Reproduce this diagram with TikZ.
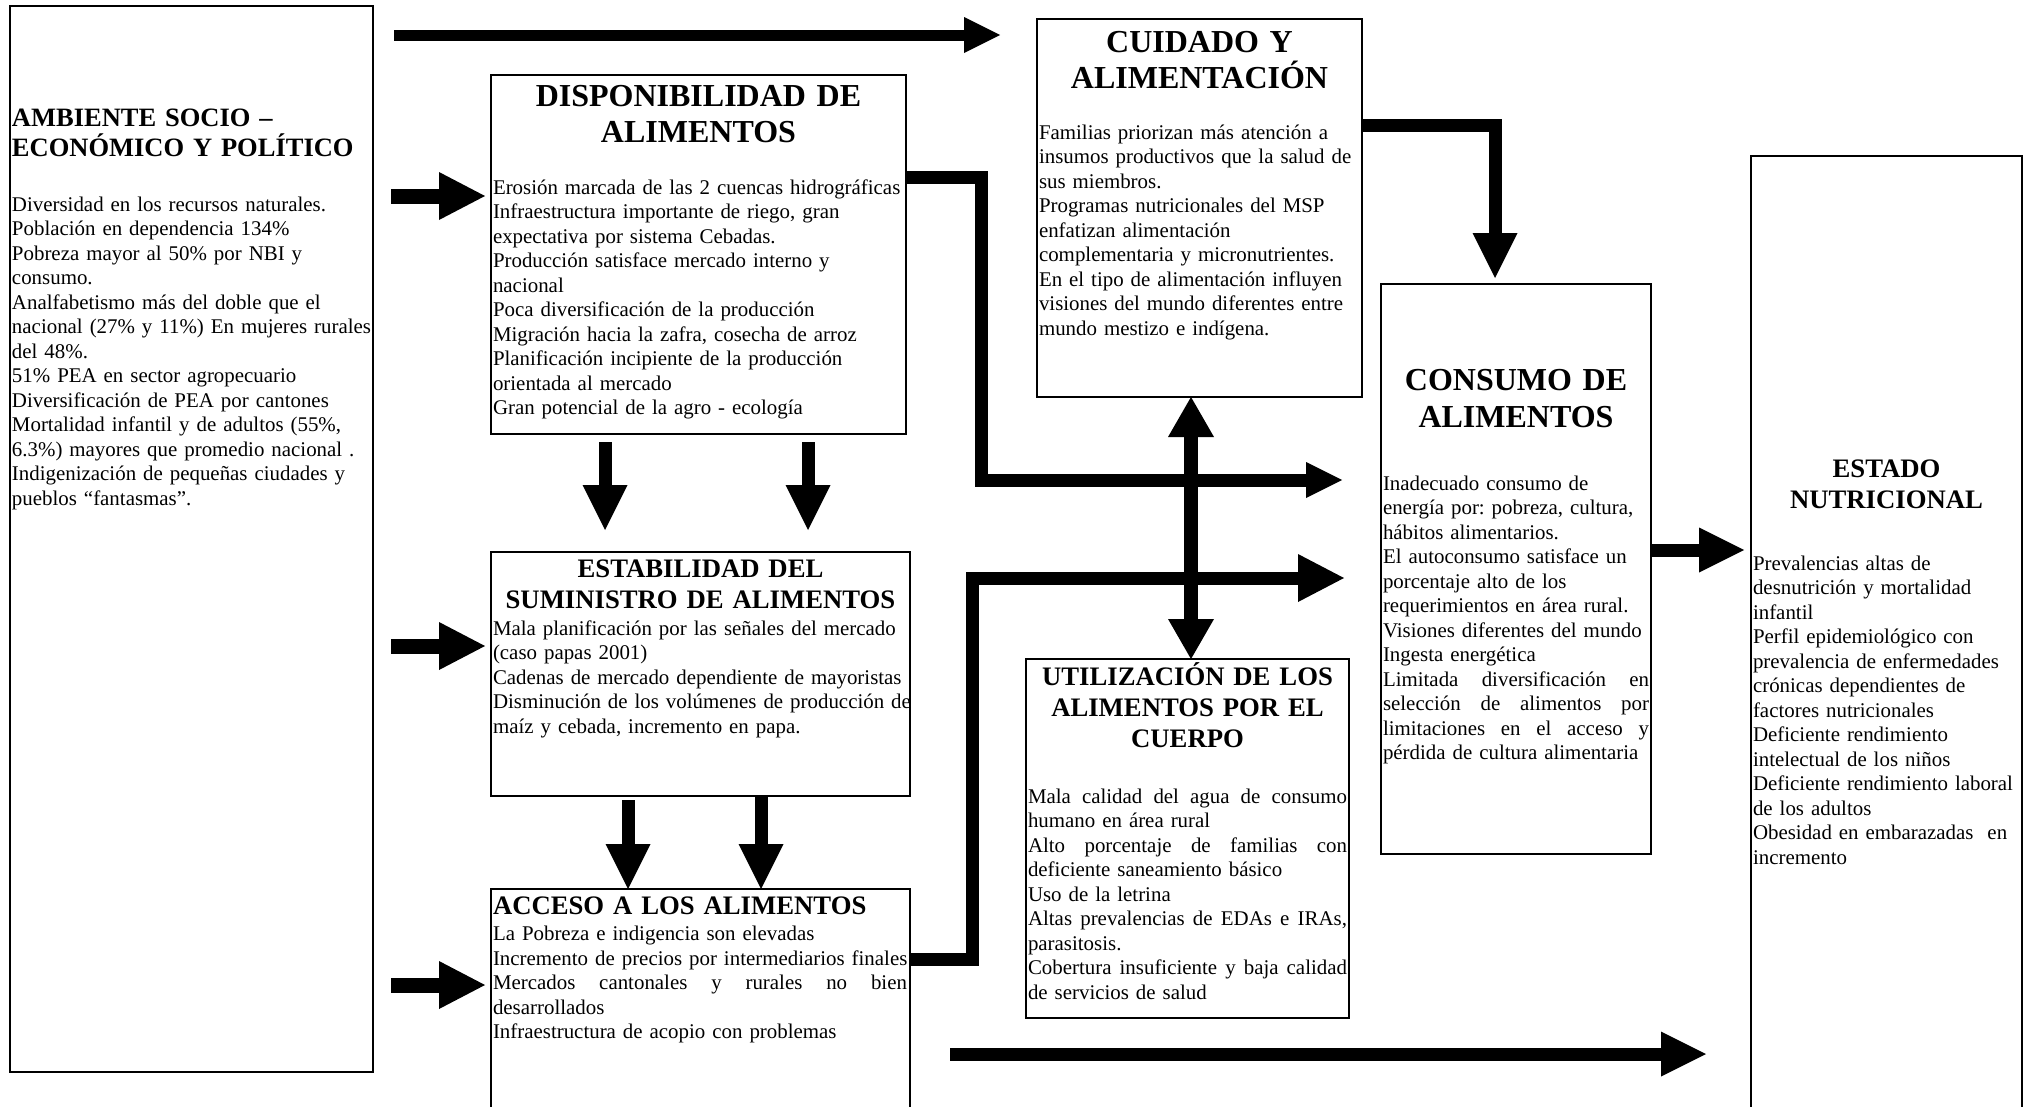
\documentclass[tikz,border=0pt]{standalone}
\usepackage{fontspec}
\setmainfont{Liberation Serif}
\usetikzlibrary{arrows.meta,calc}
\frenchspacing
\newcommand\fbody{\fontsize{20.9}{24.5}\selectfont}
\newcommand\ftbig{\fontsize{32}{36.8}\selectfont\bfseries}
\newcommand\ftmid{\fontsize{26.7}{31}\selectfont\bfseries}
\newcommand\ftamb{\fontsize{26.5}{30}\selectfont\bfseries}
\newcommand\jl[2]{\leavevmode\hbox to #1pt{\spaceskip=0.25em plus 1fil\xspaceskip=0.25em plus 1fil\relax #2}}
\begin{document}
\begin{tikzpicture}[x=1pt,y=-1pt,
  box/.style={draw, line width=1.6pt, inner sep=0pt, outer sep=0pt, anchor=north west},
  bodytxt/.style={inner sep=0pt, outer sep=0pt, anchor=base west, align=left, text width=600pt, font=\fbody},
  ttlc/.style={inner sep=0pt, outer sep=0pt, anchor=base, align=center, text width=#1pt},
  ttll/.style={inner sep=0pt, outer sep=0pt, anchor=base west, align=left, text width=600pt},
  arrS/.style={line width=11pt, -{Triangle[length=36pt,width=36pt,line width=0pt]}},
  arrM/.style={line width=13pt, -{Triangle[length=45pt,width=45pt,line width=0pt]}},
  arrL/.style={line width=15pt, -{Triangle[length=46pt,width=48pt,line width=0pt]}},
  arrD/.style={line width=14pt, {Triangle[length=40pt,width=46pt,line width=0pt]}-{Triangle[length=40pt,width=46pt,line width=0pt]}}
]
\path[use as bounding box, fill=white] (0,0) rectangle (2026,1106);
\clip (0,0) rectangle (2026,1106);

% ---------- boxes ----------
\node[box, minimum width=363pt, minimum height=1066pt] (amb) at (10,6) {};
\node[box, minimum width=415pt, minimum height=359pt] (dispo) at (491,75) {};
\node[box, minimum width=419pt, minimum height=244pt] (estab) at (491,552) {};
\node[box, minimum width=419pt, minimum height=260pt] (acceso) at (491,889) {};
\node[box, minimum width=325pt, minimum height=378pt] (cuidado) at (1037,19) {};
\node[box, minimum width=323pt, minimum height=359pt] (util) at (1026,659) {};
\node[box, minimum width=270pt, minimum height=570pt] (consumo) at (1381,284) {};
\node[box, minimum width=271pt, minimum height=1000pt] (estado) at (1751,156) {};

% ---------- texts ----------
\node[ttll, font=\ftamb] (ambT) at ($(amb.north west)+(2,120.4)$) {AMBIENTE SOCIO –\\ECONÓMICO Y POLÍTICO};
\node[bodytxt] (ambB) at ($(amb.north west)+(2,205)$) {Diversidad en los recursos naturales.\\
Población en dependencia 134\%\\
Pobreza mayor al 50\% por NBI y\\
consumo.\\
Analfabetismo más del doble que el\\
nacional (27\% y 11\%) En mujeres rurales\\
del 48\%.\\
51\% PEA en sector agropecuario\\
Diversificación de PEA por cantones\\
Mortalidad infantil y de adultos (55\%,\\
6.3\%) mayores que promedio nacional .\\
Indigenización de pequeñas ciudades y\\
pueblos “fantasmas”.};

\node[ttlc=415, font=\ftbig] (dispoT) at ($(dispo.north)+(0,31)$) {DISPONIBILIDAD DE\\ALIMENTOS};
\node[bodytxt] (dispoB) at ($(dispo.north west)+(2,119)$) {Erosión marcada de las 2 cuencas hidrográficas\\
Infraestructura importante de riego, gran\\
expectativa por sistema Cebadas.\\
Producción satisface mercado interno y\\
nacional\\
Poca diversificación de la producción\\
Migración hacia la zafra, cosecha de arroz\\
Planificación incipiente de la producción\\
orientada al mercado\\
Gran potencial de la agro - ecología};

\node[ttlc=419, font=\ftmid] (estabT) at ($(estab.north)+(0,25.5)$) {ESTABILIDAD DEL\\SUMINISTRO DE ALIMENTOS};
\node[bodytxt] (estabB) at ($(estab.north west)+(2,83)$) {Mala planificación por las señales del mercado\\
(caso papas 2001)\\
Cadenas de mercado dependiente de mayoristas\\
Disminución de los volúmenes de producción de\\
maíz y cebada, incremento en papa.};

\node[ttll, font=\ftmid] (accesoT) at ($(acceso.north west)+(2,25)$) {ACCESO A LOS ALIMENTOS};
\node[bodytxt] (accesoB) at ($(acceso.north west)+(2,51.5)$) {La Pobreza e indigencia son elevadas\\
Incremento de precios por intermediarios finales\\
\jl{414}{Mercados cantonales y rurales no bien}\\
desarrollados\\
Infraestructura de acopio con problemas};

\node[ttlc=325, font=\ftbig] (cuidadoT) at ($(cuidado.north)+(0,33)$) {CUIDADO Y\\ALIMENTACIÓN};
\node[bodytxt] (cuidadoB) at ($(cuidado.north west)+(2,120)$) {Familias priorizan más atención a\\
insumos productivos que la salud de\\
sus miembros.\\
Programas nutricionales del MSP\\
enfatizan alimentación\\
complementaria y micronutrientes.\\
En el tipo de alimentación influyen\\
visiones del mundo diferentes entre\\
mundo mestizo e indígena.};

\node[ttlc=323, font=\ftmid] (utilT) at ($(util.north)+(0,26)$) {UTILIZACIÓN DE LOS\\ALIMENTOS POR EL\\CUERPO};
\node[bodytxt] (utilB) at ($(util.north west)+(2,144)$) {\jl{319}{Mala calidad del agua de consumo}\\
humano en área rural\\
\jl{319}{Alto porcentaje de familias con}\\
deficiente saneamiento básico\\
Uso de la letrina\\
\jl{319}{Altas prevalencias de EDAs e IRAs,}\\
parasitosis.\\
\jl{319}{Cobertura insuficiente y baja calidad}\\
de servicios de salud};

\node[ttlc=270, font=\ftbig] (consumoT) at ($(consumo.north)+(0,106.5)$) {CONSUMO DE\\ALIMENTOS};
\node[bodytxt] (consumoB) at ($(consumo.north west)+(2,206)$) {Inadecuado consumo de\\
energía por: pobreza, cultura,\\
hábitos alimentarios.\\
El autoconsumo satisface un\\
porcentaje alto de los\\
requerimientos en área rural.\\
Visiones diferentes del mundo\\
Ingesta energética\\
\jl{266}{Limitada diversificación en}\\
\jl{266}{selección de alimentos por}\\
\jl{266}{limitaciones en el acceso y}\\
pérdida de cultura alimentaria};

\node[ttlc=271, font=\ftmid] (estadoT) at ($(estado.north)+(0,321)$) {ESTADO\\NUTRICIONAL};
\node[bodytxt] (estadoB) at ($(estado.north west)+(2,414)$) {Prevalencias altas de\\
desnutrición y mortalidad\\
infantil\\
Perfil epidemiológico con\\
prevalencia de enfermedades\\
crónicas dependientes de\\
factores nutricionales\\
Deficiente rendimiento\\
intelectual de los niños\\
Deficiente rendimiento laboral\\
de los adultos\\
Obesidad en embarazadas~ en\\
incremento};

% ---------- free ends ----------
\coordinate (topS) at (394,35);
\coordinate (topE) at (1000,35);
\coordinate (inD) at (391,196);
\coordinate (inE) at (391,646);
\coordinate (inA) at (391,985);
\coordinate (dispoE) at (1342,480);
\coordinate (accE) at (1344,578);
\coordinate (botS) at (950,1054);
\coordinate (botE) at (1706,1054);

% ---------- connectors ----------
\draw[arrS] (topS) -- (topE);
\draw[arrL, shorten >=6pt] (inD) -- (inD -| dispo.west);
\draw[arrL, shorten >=6pt] (inE) -- (inE -| estab.west);
\draw[arrL, shorten >=6pt] (inA) -- (inA -| acceso.west);

\draw[arrM, shorten <=8pt, shorten >=22pt] ($(dispo.south west)+(114,0)$) -- ($(estab.north west)+(114,0)$);
\draw[arrM, shorten <=8pt, shorten >=22pt] ($(dispo.south west)+(317,0)$) -- ($(estab.north west)+(317,0)$);
\draw[arrM, shorten <=4pt] ($(estab.south west)+(137,0)$) -- ($(acceso.north west)+(137,0)$);
\draw[arrM] ($(estab.south west)+(270,0)$) -- ($(acceso.north west)+(270,0)$);

\draw[arrS, line width=13pt] ($(dispo.north east)+(0,102)$) -- ++(75,0) |- (dispoE);
\draw[arrL, line width=13pt] ($(acceso.north east)+(0,70)$) -- ++(62,0) |- (accE);
\draw[arrM] ($(cuidado.north east)+(0,106)$) -| ($(consumo.north west)+(114,-6)$);
\draw[arrD] ($(cuidado.south west)+(154,0)$) -- ($(util.north west)+(165,0)$);
\draw[arrM] ($(consumo.north east)+(0,266)$) -- ($(estado.west |- consumo.north east)+(-7,266)$);
\draw[arrM] (botS) -- (botE);
\end{tikzpicture}
\end{document}
